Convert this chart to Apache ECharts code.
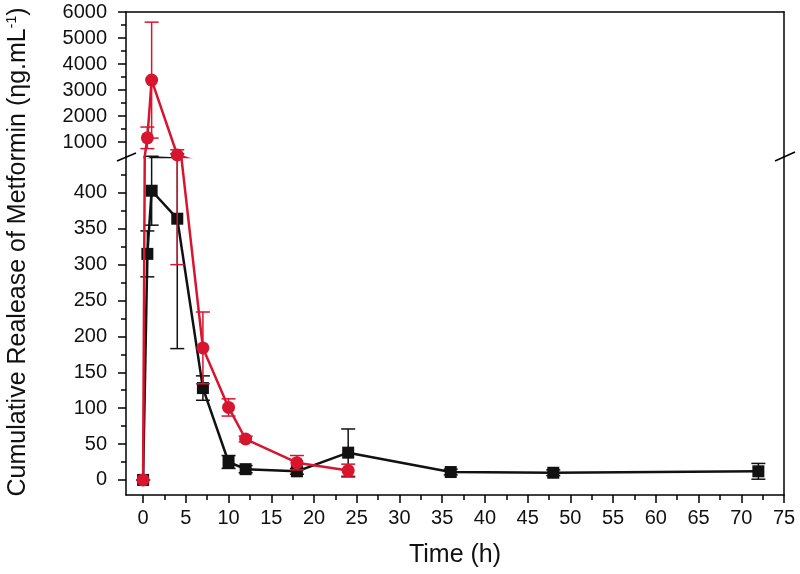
<!DOCTYPE html>
<html>
<head>
<meta charset="utf-8">
<script src="https://cdn.jsdelivr.net/npm/echarts@6/dist/echarts.min.js"></script>
<style>
  html, body { margin: 0; background: #fff; }
  #main { width: 800px; height: 574px; }
</style>
</head>
<body>
<div id="main"></div>
<script>
// data
const blackTime = [0, 0.5, 1, 4, 7, 10, 12, 18, 24, 36, 48, 72];
const blackMean = [0, 315, 403, 364, 128, 25, 15, 12, 38, 11, 10, 12];
const blackErr = [0, 32, 48, 181, 17, 9, 5, 4, 33, 4, 4, 11];
const redTime = [0, 0.5, 1, 4, 7, 10, 12, 18, 24];
const redMean = [0, 1160, 3380, 500, 184, 101, 57, 24, 13];
const redErr = [0, 415, 2230, 200, 50, 12, 4, 10, 9];

const xTicks = [0, 5, 10, 15, 20, 25, 30, 35, 40, 45, 50, 55, 60, 65, 70, 75];
const xMinor = [2.5, 7.5, 12.5, 17.5, 22.5, 27.5, 32.5, 37.5, 42.5, 47.5, 52.5, 57.5, 62.5, 67.5, 72.5];
const lowTicks = [0, 50, 100, 150, 200, 250, 300, 350, 400];
const lowMinor = [25, 75, 125, 175, 225, 275, 325, 375, 425];
const upTicks = [1000, 2000, 3000, 4000, 5000, 6000];
const upMinor = [1500, 2500, 3500, 4500, 5500];

const FONT = '"Liberation Sans", Arial, sans-serif';
const RED = '#d7152f';
const BLACK = '#111';

const chart = echarts.init(document.getElementById('main'));

function pairs(t, v) {
  return t.map((x, i) => [x, v[i]]);
}
function errData(t, m, e) {
  return t.map((x, i) => [x, m[i] - e[i], m[i] + e[i]]);
}

function errorBar(color) {
  return function (params, api) {
    const x = api.value(0);
    const lo = api.coord([x, api.value(1)]);
    const hi = api.coord([x, api.value(2)]);
    const w = 7;
    const style = { stroke: color, lineWidth: 1.5 };
    return {
      type: 'group',
      children: [
        { type: 'line', shape: { x1: lo[0], y1: lo[1], x2: hi[0], y2: hi[1] }, style },
        { type: 'line', shape: { x1: lo[0] - w, y1: lo[1], x2: lo[0] + w, y2: lo[1] }, style },
        { type: 'line', shape: { x1: hi[0] - w, y1: hi[1], x2: hi[0] + w, y2: hi[1] }, style },
      ],
    };
  };
}

const axisLine = { show: true, onZero: false, lineStyle: { color: '#000', width: 1.5 } };
const noLine = { show: false, onZero: false };
const labelStyle = { color: '#111', fontSize: 20, fontFamily: FONT, formatter: v => String(v) };

function yMajor(grid, min, max, ticks) {
  return {
    type: 'value', gridIndex: grid, min, max, position: 'left',
    axisLine,
    splitLine: { show: false },
    axisTick: { show: true, length: 8, customValues: ticks, lineStyle: { color: '#000', width: 1.5 } },
    axisLabel: { show: true, margin: 19, customValues: ticks, ...labelStyle },
  };
}
function yMinor(grid, min, max, ticks) {
  return {
    type: 'value', gridIndex: grid, min, max, position: 'left',
    axisLine: noLine,
    splitLine: { show: false },
    axisTick: { show: true, length: 5, customValues: ticks, lineStyle: { color: '#000', width: 1.5 } },
    axisLabel: { show: false },
  };
}
function yRight(grid, min, max) {
  return {
    type: 'value', gridIndex: grid, min, max, position: 'right',
    axisLine,
    splitLine: { show: false },
    axisTick: { show: false },
    axisLabel: { show: false },
  };
}

const series = [];
[[0, 0], [1, 3]].forEach(([xi, yi]) => {
  series.push({
    type: 'custom', xAxisIndex: xi, yAxisIndex: yi, clip: true, z: 2,
    renderItem: errorBar(BLACK), data: errData(blackTime, blackMean, blackErr),
  });
  series.push({
    type: 'line', xAxisIndex: xi, yAxisIndex: yi, clip: true, z: 3,
    symbol: 'rect', symbolSize: 12, animation: false,
    lineStyle: { color: BLACK, width: 2.5 }, itemStyle: { color: BLACK },
    data: pairs(blackTime, blackMean),
  });
  series.push({
    type: 'custom', xAxisIndex: xi, yAxisIndex: yi, clip: true, z: 4,
    renderItem: errorBar(RED), data: errData(redTime, redMean, redErr),
  });
  series.push({
    type: 'line', xAxisIndex: xi, yAxisIndex: yi, clip: true, z: 5,
    symbol: 'circle', symbolSize: 13, animation: false,
    lineStyle: { color: RED, width: 2.5 }, itemStyle: { color: RED },
    data: pairs(redTime, redMean),
  });
});

chart.setOption({
  animation: false,
  grid: [
    { left: 126, right: 16, top: 12, height: 145 },
    { left: 126, right: 16, top: 157, height: 338 },
  ],
  xAxis: [
    {
      type: 'value', gridIndex: 0, min: -2, max: 75, position: 'top',
      axisLine, splitLine: { show: false }, axisTick: { show: false }, axisLabel: { show: false },
    },
    {
      type: 'value', gridIndex: 1, min: -2, max: 75, position: 'bottom',
      axisLine, splitLine: { show: false },
      axisTick: { show: true, length: 8, customValues: xTicks, lineStyle: { color: '#000', width: 1.5 } },
      axisLabel: { show: true, margin: 13, customValues: xTicks, ...labelStyle },
      name: 'Time (h)', nameLocation: 'middle', nameGap: 48,
      nameTextStyle: { color: '#111', fontSize: 25, fontFamily: FONT },
    },
    {
      type: 'value', gridIndex: 1, min: -2, max: 75, position: 'bottom',
      axisLine: noLine, splitLine: { show: false },
      axisTick: { show: true, length: 5, customValues: xMinor, lineStyle: { color: '#000', width: 1.5 } },
      axisLabel: { show: false },
    },
  ],
  yAxis: [
    yMajor(0, 423, 6000, upTicks),
    yMinor(0, 423, 6000, upMinor),
    yRight(0, 423, 6000),
    yMajor(1, -21, 450, lowTicks),
    yMinor(1, -21, 450, lowMinor),
    yRight(1, -21, 450),
  ],
  series,
  graphic: [
    {
      type: 'text', x: 18, y: 252, rotation: Math.PI / 2, z: 10,
      style: {
        text: 'Cumulative Realease of Metformin (ηg.mL{sup|-1})',
        font: '25px ' + FONT, fill: '#111', align: 'center', verticalAlign: 'middle',
        rich: { sup: { fontSize: 14, fontFamily: FONT, fill: '#111', padding: [0, 0, 12, 0] } },
      },
    },
    { type: 'line', z: 10, shape: { x1: 117, y1: 161, x2: 136, y2: 153 }, style: { stroke: '#000', lineWidth: 1.5 } },
    { type: 'line', z: 10, shape: { x1: 775, y1: 161, x2: 795, y2: 152 }, style: { stroke: '#000', lineWidth: 1.5 } },
  ],
});
</script>
</body>
</html>
